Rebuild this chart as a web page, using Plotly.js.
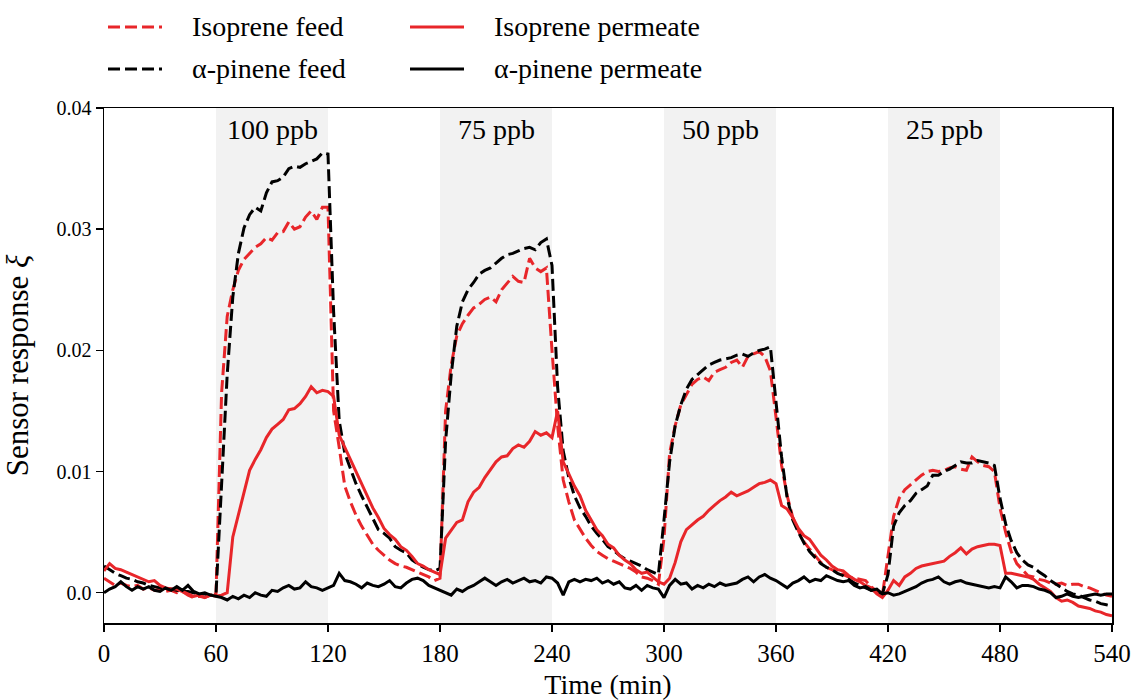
<!DOCTYPE html>
<html>
<head>
<meta charset="utf-8">
<script src="https://cdn.plot.ly/plotly-3.0.1.min.js"></script>
<style>html,body{margin:0;padding:0;background:#fff;}#chart{width:1137px;height:700px;}</style>
</head>
<body>
<div id="chart"></div>
<script>
// ---- data ----
const timeMin = [0,3,6,9,12,15,18,21,24,27,30,33,36,39,42,45,48,51,54,57,
60,63,66,69,72,75,78,81,84,87,90,93,96,99,102,105,108,111,114,117,
120,123,126,129,132,135,138,141,144,147,150,153,156,159,162,165,168,171,174,177,
180,183,186,189,192,195,198,201,204,207,210,213,216,219,222,225,228,231,234,237,
240,243,246,249,252,255,258,261,264,267,270,273,276,279,282,285,288,291,294,297,
300,303,306,309,312,315,318,321,324,327,330,333,336,339,342,345,348,351,354,357,
360,363,366,369,372,375,378,381,384,387,390,393,396,399,402,405,408,411,414,417,
420,423,426,429,432,435,438,441,444,447,450,453,456,459,462,465,468,471,474,477,
480,483,486,489,492,495,498,501,504,507,510,513,516,519,522,525,528,531,534,537,
540];

const isopreneFeed = [0.0012,0.0009,0.0006,0.0008,0.0006,0.0005,0.0006,0.0003,0.0004,0.0002,0.0003,0.0001,0.0002,0.0000,0.0001,-0.0002,-0.0004,-0.0003,-0.0004,-0.0002,
-0.0001,0.0165,0.0228,0.0250,0.0266,0.0275,0.0280,0.0285,0.0288,0.0293,0.0291,0.0297,0.0298,0.0306,0.0300,0.0302,0.0310,0.0315,0.0308,0.0318,
0.0318,0.0150,0.0120,0.0088,0.0075,0.0064,0.0055,0.0048,0.0040,0.0035,0.0031,0.0027,0.0024,0.0022,0.0021,0.0019,0.0017,0.0015,0.0013,0.0010,
0.0012,0.0150,0.0188,0.0212,0.0222,0.0229,0.0235,0.0238,0.0242,0.0244,0.0240,0.0250,0.0256,0.0261,0.0257,0.0256,0.0276,0.0268,0.0265,0.0268,
0.0200,0.0138,0.0093,0.0075,0.0060,0.0052,0.0045,0.0039,0.0034,0.0031,0.0028,0.0026,0.0024,0.0022,0.0020,0.0017,0.0013,0.0012,0.0010,0.0007,
0.0045,0.0115,0.0138,0.0155,0.0164,0.0172,0.0176,0.0178,0.0175,0.0182,0.0184,0.0186,0.0190,0.0192,0.0186,0.0195,0.0197,0.0199,0.0195,0.0183,
0.0145,0.0105,0.0080,0.0062,0.0051,0.0042,0.0036,0.0030,0.0025,0.0021,0.0019,0.0017,0.0015,0.0013,0.0012,0.0011,0.0010,0.0005,0.0001,-0.0002,
0.0030,0.0063,0.0078,0.0085,0.0089,0.0093,0.0097,0.0100,0.0101,0.0100,0.0101,0.0103,0.0104,0.0102,0.0101,0.0112,0.0108,0.0105,0.0104,0.0100,
0.0070,0.0050,0.0034,0.0024,0.0019,0.0014,0.0013,0.0011,0.0010,0.0008,0.0007,0.0008,0.0006,0.0007,0.0007,0.0005,0.0004,0.0002,0.0000,-0.0002,
-0.0003];

const isoprenePermeate = [0.0018,0.0024,0.0020,0.0019,0.0017,0.0015,0.0013,0.0011,0.0009,0.0010,0.0006,0.0004,0.0003,0.0003,0.0001,-0.0001,-0.0003,-0.0002,-0.0004,-0.0002,
-0.0003,-0.0002,0.0000,0.0046,0.0064,0.0081,0.0101,0.0110,0.0118,0.0128,0.0135,0.0139,0.0143,0.0151,0.0152,0.0156,0.0162,0.0170,0.0165,0.0167,
0.0166,0.0162,0.0130,0.0120,0.0110,0.0100,0.0090,0.0081,0.0070,0.0062,0.0053,0.0048,0.0044,0.0038,0.0035,0.0030,0.0024,0.0022,0.0019,0.0017,
0.0015,0.0045,0.0052,0.0058,0.0060,0.0075,0.0083,0.0087,0.0095,0.0102,0.0108,0.0112,0.0113,0.0119,0.0122,0.0120,0.0125,0.0133,0.0130,0.0132,
0.0128,0.0150,0.0108,0.0098,0.0088,0.0080,0.0068,0.0060,0.0052,0.0047,0.0040,0.0037,0.0031,0.0027,0.0024,0.0019,0.0016,0.0017,0.0013,0.0009,
0.0007,0.0012,0.0025,0.0042,0.0052,0.0056,0.0060,0.0063,0.0068,0.0072,0.0076,0.0079,0.0083,0.0080,0.0082,0.0084,0.0087,0.0090,0.0091,0.0093,
0.0090,0.0072,0.0069,0.0062,0.0053,0.0047,0.0044,0.0038,0.0031,0.0027,0.0022,0.0019,0.0018,0.0014,0.0011,0.0009,0.0006,0.0004,-0.0001,-0.0004,
0.0002,0.0010,0.0006,0.0013,0.0016,0.0020,0.0022,0.0023,0.0024,0.0025,0.0026,0.0030,0.0033,0.0037,0.0032,0.0036,0.0038,0.0039,0.0040,0.0040,
0.0039,0.0016,0.0016,0.0015,0.0014,0.0013,0.0011,0.0007,0.0004,0.0001,-0.0004,-0.0007,-0.0006,-0.0008,-0.0011,-0.0012,-0.0013,-0.0015,-0.0016,-0.0018,
-0.0019];

const pineneFeed = [0.0022,0.0019,0.0016,0.0014,0.0012,0.0011,0.0009,0.0008,0.0006,0.0005,0.0004,0.0003,0.0003,0.0002,0.0001,0.0001,0.0000,-0.0001,-0.0001,-0.0002,
-0.0001,0.0095,0.0180,0.0244,0.0280,0.0301,0.0312,0.0318,0.0315,0.0330,0.0339,0.0340,0.0343,0.0350,0.0352,0.0351,0.0354,0.0356,0.0358,0.0363,
0.0362,0.0232,0.0142,0.0115,0.0103,0.0090,0.0080,0.0071,0.0062,0.0052,0.0049,0.0045,0.0038,0.0035,0.0033,0.0027,0.0024,0.0021,0.0019,0.0018,
0.0020,0.0125,0.0180,0.0220,0.0240,0.0250,0.0256,0.0263,0.0266,0.0268,0.0272,0.0276,0.0279,0.0280,0.0282,0.0284,0.0285,0.0283,0.0289,0.0292,
0.0270,0.0170,0.0117,0.0095,0.0080,0.0070,0.0063,0.0055,0.0049,0.0044,0.0038,0.0035,0.0031,0.0028,0.0026,0.0024,0.0022,0.0019,0.0017,0.0015,
0.0060,0.0108,0.0138,0.0155,0.0168,0.0176,0.0180,0.0184,0.0188,0.0190,0.0192,0.0193,0.0194,0.0196,0.0197,0.0195,0.0198,0.0200,0.0201,0.0203,
0.0160,0.0112,0.0078,0.0060,0.0050,0.0041,0.0034,0.0029,0.0024,0.0021,0.0019,0.0016,0.0014,0.0011,0.0008,0.0006,0.0004,0.0002,0.0001,-0.0001,
0.0015,0.0055,0.0066,0.0072,0.0076,0.0082,0.0085,0.0088,0.0097,0.0097,0.0100,0.0102,0.0105,0.0108,0.0107,0.0107,0.0109,0.0108,0.0107,0.0105,
0.0078,0.0057,0.0043,0.0033,0.0027,0.0023,0.0021,0.0017,0.0014,0.0010,0.0007,0.0004,0.0001,-0.0001,-0.0002,-0.0004,-0.0006,-0.0007,-0.0009,-0.0010,
-0.0011];

const pinenePermeate = [0.0000,0.0003,0.0005,0.0009,0.0005,0.0002,0.0005,0.0003,0.0005,0.0002,0.0001,0.0004,0.0002,0.0005,0.0002,0.0006,0.0001,-0.0001,0.0000,-0.0002,
-0.0003,-0.0004,-0.0006,-0.0003,-0.0005,-0.0002,-0.0004,0.0000,-0.0002,-0.0003,0.0002,0.0001,0.0004,0.0006,0.0003,0.0004,0.0009,0.0005,0.0004,0.0002,
0.0004,0.0006,0.0016,0.0010,0.0009,0.0007,0.0004,0.0008,0.0006,0.0005,0.0007,0.0010,0.0005,0.0004,0.0008,0.0011,0.0012,0.0010,0.0006,0.0004,
0.0002,0.0000,-0.0002,0.0003,0.0001,0.0004,0.0006,0.0009,0.0012,0.0009,0.0006,0.0009,0.0011,0.0008,0.0010,0.0012,0.0009,0.0010,0.0008,0.0013,
0.0012,0.0008,-0.0002,0.0009,0.0011,0.0009,0.0011,0.0010,0.0012,0.0008,0.0010,0.0007,0.0009,0.0004,0.0003,0.0006,0.0002,0.0006,0.0004,0.0003,
-0.0004,0.0006,0.0011,0.0007,0.0008,0.0003,0.0006,0.0004,0.0007,0.0005,0.0008,0.0006,0.0007,0.0008,0.0011,0.0013,0.0009,0.0013,0.0015,0.0012,
0.0010,0.0007,0.0004,0.0008,0.0010,0.0013,0.0009,0.0011,0.0010,0.0014,0.0012,0.0010,0.0009,0.0010,0.0006,0.0004,0.0005,0.0002,0.0003,-0.0001,
0.0000,-0.0002,-0.0001,0.0001,0.0003,0.0005,0.0008,0.0010,0.0011,0.0013,0.0009,0.0007,0.0009,0.0010,0.0008,0.0007,0.0006,0.0005,0.0004,0.0005,
0.0004,0.0013,0.0009,0.0004,0.0006,0.0006,0.0005,0.0003,0.0002,0.0000,-0.0004,-0.0003,-0.0001,-0.0003,-0.0004,-0.0003,-0.0002,-0.0001,-0.0002,-0.0001,
-0.0001];

const exposureStart = [60, 180, 300, 420];
const exposureEnd = [120, 240, 360, 480];
const exposureLabels = ['100 ppb', '75 ppb', '50 ppb', '25 ppb'];

const seriesNames = ['Isoprene feed', 'α-pinene feed', 'Isoprene permeate', 'α-pinene permeate'];
const xTicks = [0, 60, 120, 180, 240, 300, 360, 420, 480, 540];
const yTicks = [0, 0.01, 0.02, 0.03, 0.04];
const yTickText = ['0.0', '0.01', '0.02', '0.03', '0.04'];

// ---- styling ----
const RED = '#e8262a';
const BLACK = '#000000';
const DASH = '12px,5px';
const FONT = 'Liberation Serif, Times New Roman, serif';

const W = 1137, H = 700;
const M = {l: 104, r: 25, t: 108, b: 77};
const plotW = W - M.l - M.r, plotH = H - M.t - M.b;
const px2x = px => (px - M.l) / plotW;
const py2y = py => (H - M.b - py) / plotH;

const seriesData = [isopreneFeed, pineneFeed, isoprenePermeate, pinenePermeate];
const seriesColor = [RED, BLACK, RED, BLACK];
const seriesDash = [DASH, DASH, 'solid', 'solid'];

const traces = seriesData.map((y, i) => ({
  x: timeMin, y: y, name: seriesNames[i], type: 'scatter', mode: 'lines',
  line: {color: seriesColor[i], width: 3, dash: seriesDash[i]},
  showlegend: false, hoverinfo: 'skip'
}));

const shapes = exposureStart.map((s, i) => ({
  type: 'rect', xref: 'x', yref: 'paper', x0: s, x1: exposureEnd[i], y0: 0, y1: 1,
  fillcolor: '#f2f2f2', line: {width: 0}, layer: 'below'
}));

const annotations = exposureStart.map((s, i) => ({
  x: (s + exposureEnd[i]) / 2, y: 0.0382, xref: 'x', yref: 'y',
  text: exposureLabels[i], showarrow: false, xanchor: 'center', yanchor: 'middle',
  font: {family: FONT, size: 28, color: '#000'}
}));

// legend (2 columns, matplotlib style)
const legendItems = [
  {name: seriesNames[0], color: RED, dash: DASH, lx: 108, ty: 27},
  {name: seriesNames[1], color: BLACK, dash: DASH, lx: 108, ty: 69},
  {name: seriesNames[2], color: RED, dash: 'solid', lx: 410, ty: 27},
  {name: seriesNames[3], color: BLACK, dash: 'solid', lx: 410, ty: 69}
];
legendItems.forEach(it => {
  shapes.push({type: 'line', xref: 'paper', yref: 'paper',
    x0: px2x(it.lx), x1: px2x(it.lx + 54), y0: py2y(it.ty), y1: py2y(it.ty),
    line: {color: it.color, width: 3, dash: it.dash}});
  annotations.push({xref: 'paper', yref: 'paper', x: px2x(it.lx + 82), y: py2y(it.ty),
    text: it.name, showarrow: false, xanchor: 'left', yanchor: 'middle',
    font: {family: FONT, size: 28, color: '#000'}});
});

const layout = {
  width: W, height: H,
  margin: M,
  paper_bgcolor: '#fff', plot_bgcolor: 'rgba(0,0,0,0)',
  font: {family: FONT, color: '#000'},
  showlegend: false,
  xaxis: {
    range: [0, 540], tickvals: xTicks, ticktext: xTicks.map(String),
    ticks: 'outside', ticklen: 7, tickwidth: 1.5, tickcolor: '#000',
    showline: true, linecolor: '#000', linewidth: 1.5, mirror: true,
    showgrid: false, zeroline: false,
    tickfont: {family: FONT, size: 25},
    title: {text: 'Time (min)', font: {family: FONT, size: 28}, standoff: 10},
    automargin: false
  },
  yaxis: {
    range: [-0.0025, 0.04], tickvals: yTicks, ticktext: yTickText,
    ticks: 'outside', ticklen: 7, tickwidth: 1.5, tickcolor: '#000',
    showline: true, linecolor: '#000', linewidth: 1.5, mirror: true,
    showgrid: false, zeroline: false,
    tickfont: {family: FONT, size: 20},
    title: {text: 'Sensor response <i>ξ</i>', font: {family: FONT, size: 31}, standoff: 20},
    automargin: false
  },
  shapes: shapes,
  annotations: annotations
};

Plotly.newPlot('chart', traces, layout, {displayModeBar: false, staticPlot: true});
</script>
</body>
</html>
